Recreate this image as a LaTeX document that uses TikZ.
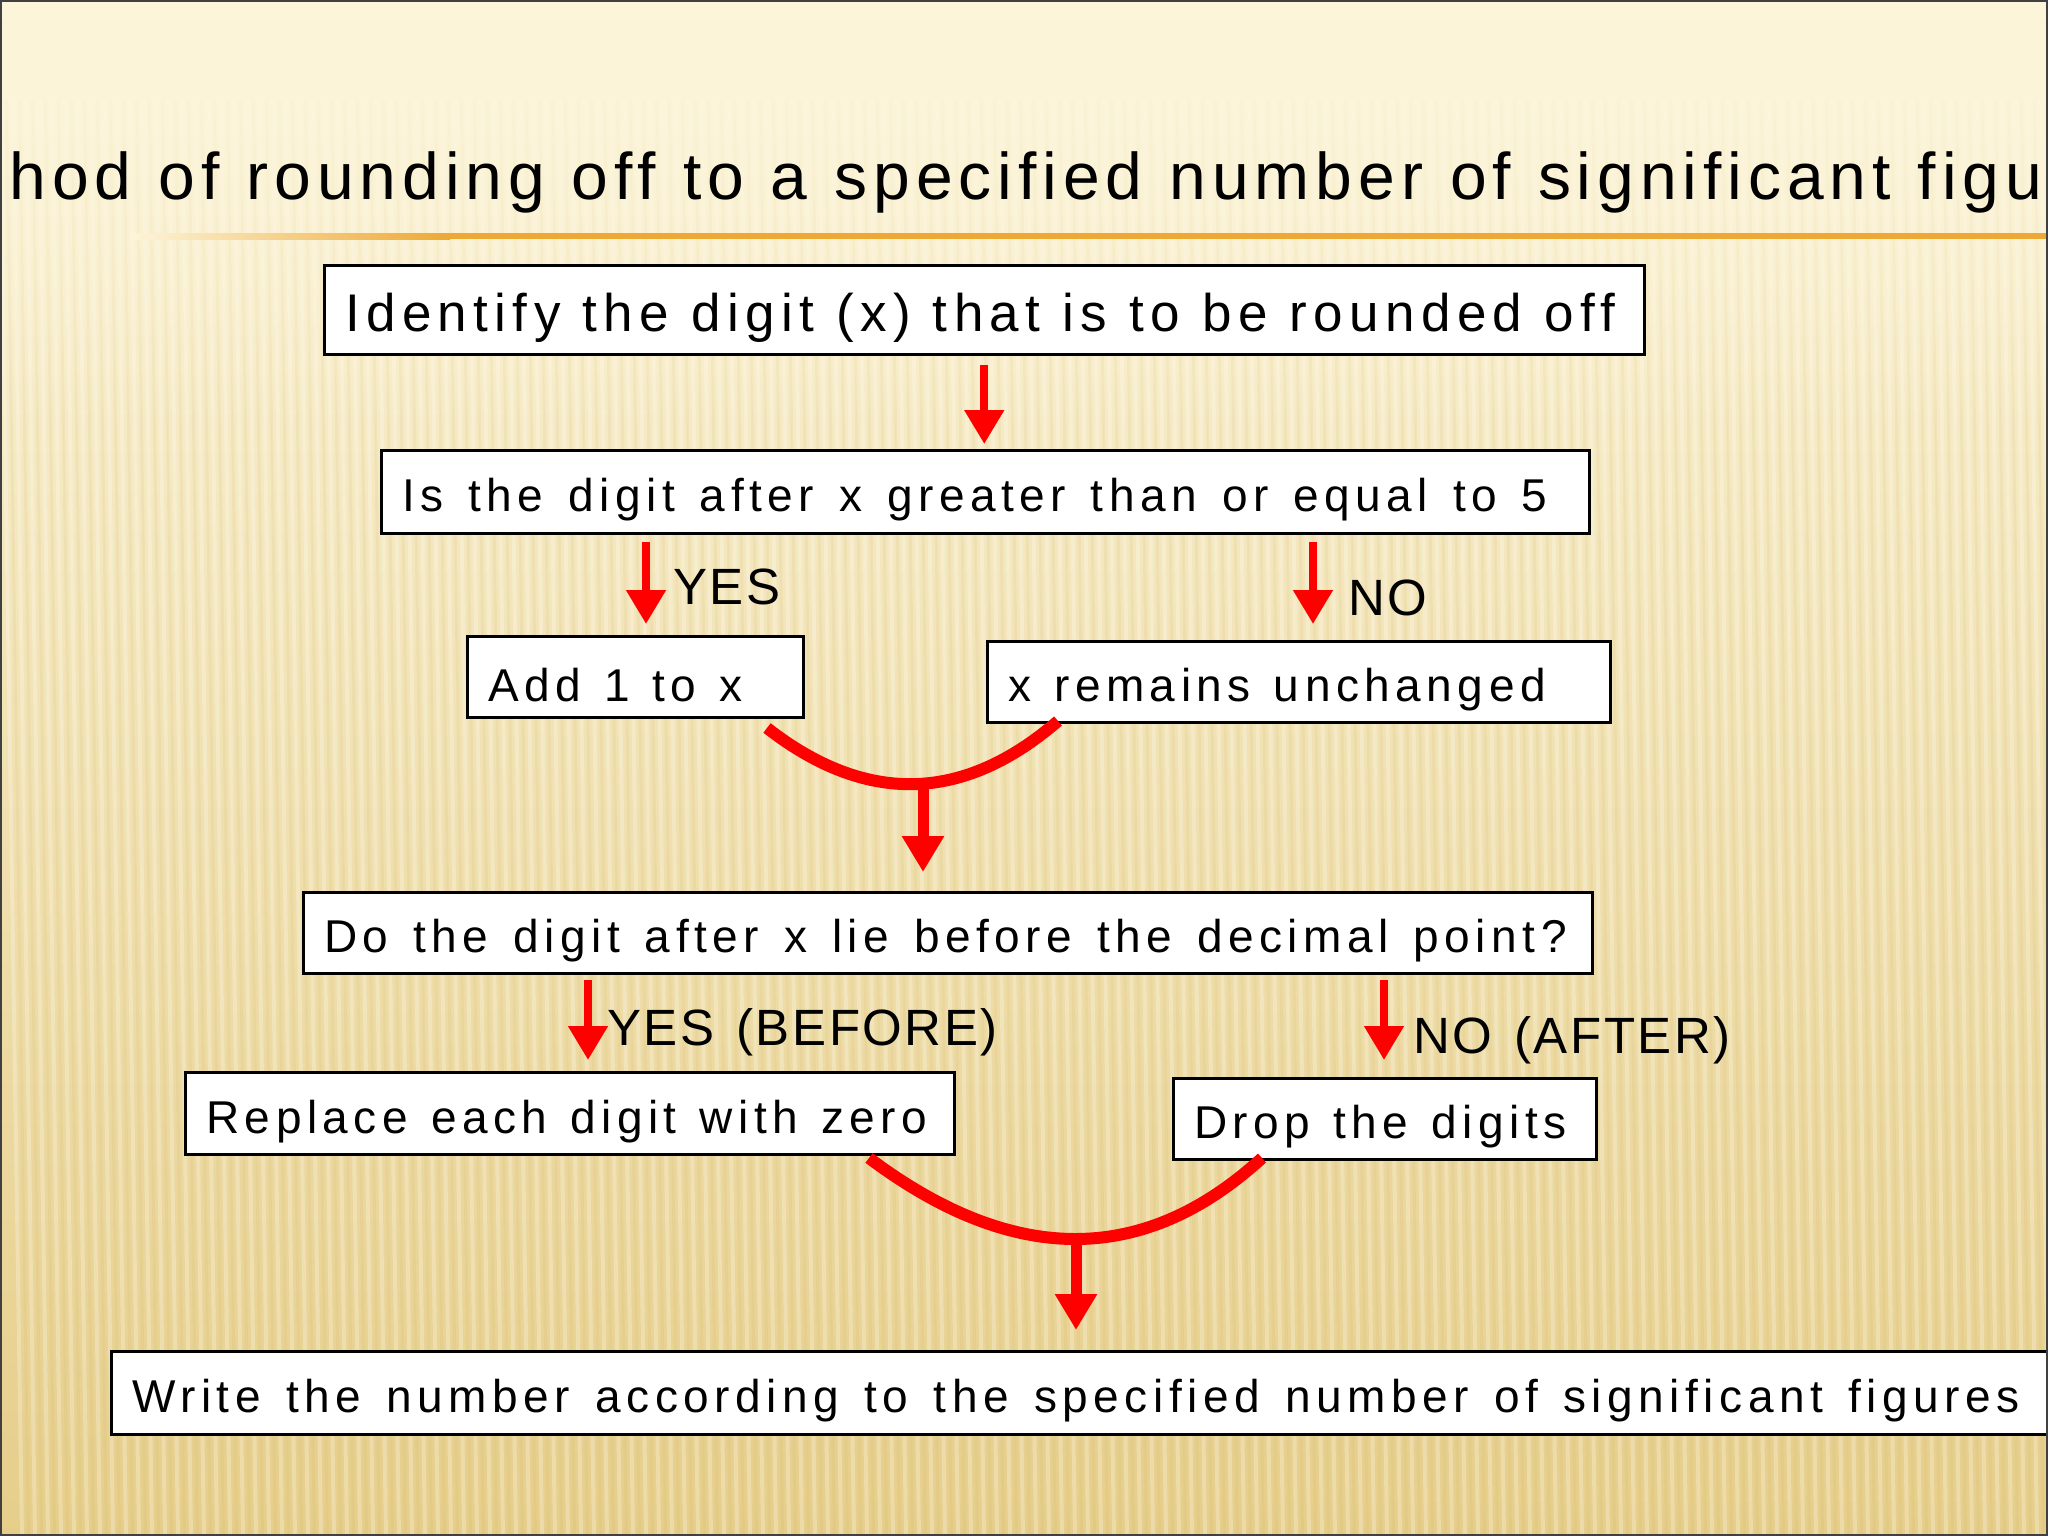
\documentclass[tikz,border=0pt]{standalone}
\usepackage{fontspec}
\setmainfont{Liberation Sans}
\newfontfamily\titlefont{Liberation Sans}[LetterSpace=9]
\newfontfamily\boxfont{Liberation Sans}[LetterSpace=12]
\newfontfamily\lblfont{Liberation Sans}[LetterSpace=5]
\newcommand\setsp[1]{\spaceskip=#1\relax}
\newcommand\lowtxt[2][25pt]{\mbox{\setsp{#1}\raisebox{-8pt}[\height][\depth]{#2}}}
\usetikzlibrary{arrows.meta,fadings}
\definecolor{bgtop}{RGB}{252,245,218}
\definecolor{bgmid}{RGB}{248,234,182}
\definecolor{bgbot}{RGB}{230,206,138}
\definecolor{orangeline}{RGB}{238,168,52}
\definecolor{arrred}{RGB}{255,0,0}
\definecolor{stripedark}{RGB}{200,170,90}
\begin{document}
\begin{tikzpicture}[x=1pt,y=-1pt,
  box/.style={draw=black, line width=2.5pt, fill=white, anchor=north west,
    inner xsep=21pt, inner ysep=0pt, align=left,
    font=\boxfont\fontsize{46}{52}\selectfont},
  lbl/.style={anchor=west, inner sep=0pt, font={\lblfont\fontsize{51}{60}\selectfont\setsp{22pt}}},
  arr/.style={draw=arrred, line width=8pt, -{Triangle[width=38pt,length=34pt]}},
  joinarc/.style={draw=arrred, line width=12pt},
  stem/.style={draw=arrred, line width=11pt, -{Triangle[width=40pt,length=36pt]}}]
\useasboundingbox (0,0) rectangle (2048,1536);
\clip (0,0) rectangle (2048,1536);
% background
\shade[top color=bgtop, middle color=bgmid, bottom color=bgbot] (0,0) rectangle (2048,1536);
\foreach \x in {0,13,...,2090} {
  \draw[white, opacity=0.25, line width=4pt] (\x,100) -- (\x+22,1536);
  \draw[stripedark, opacity=0.10, line width=3pt] (\x+6.5,100) -- (\x+28.5,1536);
}
\fill[bgtop, path fading=south] (0,0) rectangle (2048,430);
% title
\shade[left color=bgtop, right color=orangeline] (130,233) rectangle (450,239);
\fill[orangeline] (450,233) rectangle (2048,239);
\node[anchor=base, inner sep=0pt, font={\titlefont\fontsize{66}{70}\selectfont\setsp{27pt}}] (title) at (1026,199)
  {hod of rounding off to a specified number of significant figu};
% boxes
\node[box, minimum height=89pt, text width=1278pt, font=\boxfont\fontsize{53}{60}\selectfont] (b1) at (323,264)
  {\lowtxt[22.2pt]{Identify the digit (x) that is to be rounded off}};
\node[box, minimum height=83pt, text width=1166pt] (b2) at (380,449)
  {\lowtxt{Is the digit after x greater than or equal to 5}};
\node[box, minimum height=81pt, text width=294pt] (b3) at (466,635) {\lowtxt[23pt]{Add 1 to x}};
\node[box, minimum height=81pt, text width=581pt] (b4) at (986,640) {\lowtxt[23pt]{x remains unchanged}};
\node[box, minimum height=81pt, text width=1247pt] (b5) at (302,891)
  {\lowtxt{Do the digit after x lie before the decimal point?}};
\node[box, minimum height=82pt, text width=727pt] (b6) at (184,1071) {\lowtxt[23pt]{Replace each digit with zero}};
\node[box, minimum height=81pt, text width=381pt] (b7) at (1172,1077) {\lowtxt[23pt]{Drop the digits}};
\node[box, minimum height=83pt, text width=1918pt] (b8) at (110,1350)
  {\lowtxt[25.4pt]{Write the number according to the specified number of significant figures}};
% labels
\node[lbl] (lyes) at (673,587) {YES};
\node[lbl] (lno) at (1348,598) {NO};
\node[lbl] (lyesb) at (607,1032) {YES (BEFORE)};
\node[lbl] (lnoa) at (1413,1040) {NO (AFTER)};
% helper coordinates
\coordinate (yx) at (646,0);
\coordinate (nx) at (1313,0);
\coordinate (ybx) at (588,0);
\coordinate (nax) at (1384,0);
\coordinate (c1l) at (767,728);
\coordinate (c1r) at (1058,721);
\coordinate (c1m) at (923,780);
\coordinate (c2l) at (869,1158);
\coordinate (c2r) at (1262,1158);
\coordinate (c2m) at (1076,1235);
% connectors
\draw[arr, shorten <=9pt, shorten >=5pt] (b1.south) -- (b1.south |- b2.north);
\draw[arr, shorten <=7pt, shorten >=11pt] (b2.south -| yx) -- (b3.north -| yx);
\draw[arr, shorten <=7pt, shorten >=16pt] (b2.south -| nx) -- (b4.north -| nx);
\draw[joinarc] (c1l) .. controls (866,805) and (963,803) .. (c1r);
\draw[stem, shorten >=19pt] (c1m) -- (b5.north -| c1m);
\draw[arr, shorten <=5pt, shorten >=11pt] (b5.south -| ybx) -- (b6.north -| ybx);
\draw[arr, shorten <=5pt, shorten >=17pt] (b5.south -| nax) -- (b7.north -| nax);
\draw[joinarc] (c2l) .. controls (1013,1266) and (1144,1266) .. (c2r);
\draw[stem, shorten >=20pt] (c2m) -- (b8.north -| c2m);
% frame
\draw[line width=2pt, black!75] (1,1) rectangle (2047,1535);
\end{tikzpicture}
\end{document}
